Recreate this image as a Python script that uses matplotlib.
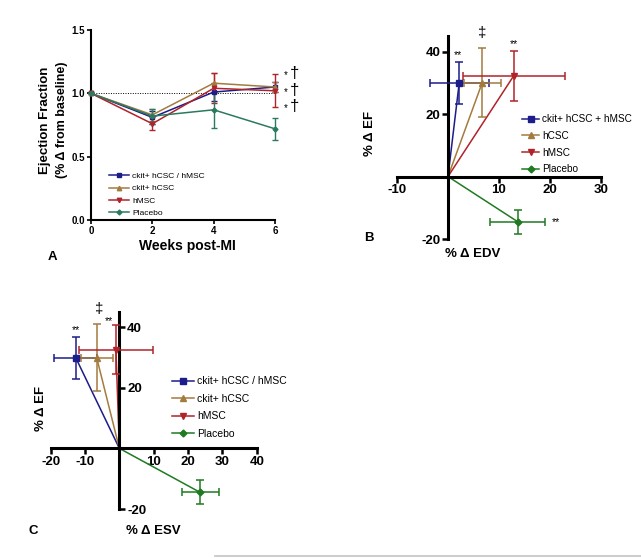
import matplotlib
matplotlib.use("Agg")
import matplotlib.pyplot as plt
from matplotlib.lines import Line2D

plt.rcParams['font.family'] = ['Liberation Sans', 'DejaVu Sans']

# ---------------- data ----------------
weeks = [0, 2, 4, 6]
a_labels = ["ckit+ hCSC / hMSC", "ckit+ hCSC", "hMSC", "Placebo"]
a_blue = [1.0, 0.81, 1.01, 1.05]
a_blue_err = [0, 0.05, 0.07, 0.04]
a_gold = [1.0, 0.83, 1.08, 1.05]
a_gold_err = [0, 0.05, 0.08, 0.04]
a_red = [1.0, 0.76, 1.04, 1.02]
a_red_err = [0, 0.05, 0.12, 0.13]
a_green = [1.0, 0.82, 0.87, 0.72]
a_green_err = [0, 0.06, 0.14, 0.085]

b_labels = ["ckit+ hCSC + hMSC", "hCSC", "hMSC", "Placebo"]
b_edv = [2.2, 6.7, 12.9, 13.7]
b_edv_err = [5.8, 3.6, 10.0, 5.4]
b_ef = [30.0, 30.0, 32.3, -14.5]
b_ef_err = [6.7, 11.0, 8.0, 3.9]

c_labels = ["ckit+ hCSC / hMSC", "ckit+ hCSC", "hMSC", "Placebo"]
c_esv = [-12.7, -6.6, -1.0, 23.5]
c_esv_err = [6.3, 4.7, 10.8, 5.4]
c_ef = [29.9, 29.9, 32.6, -14.5]
c_ef_err = [7.0, 11.0, 8.0, 4.0]

BLUE = '#1c1c8a'
GOLD = '#a47b3e'
RED = '#b0232a'
TEAL = '#2b7a60'
GREEN = '#1f7a22'
markers = ['s', '^', 'v', 'D']

W, H = 641, 558
fig = plt.figure(figsize=(W / 100, H / 100), dpi=100)

def fx(px):
    return px / W

def fy(py):
    return 1 - py / H

# ---------------- Panel A ----------------
axA = fig.add_axes([fx(91), fy(220), fx(275) - fx(91), fy(30) - fy(220)])
axA.set_xlim(0, 6)
axA.set_ylim(0, 1.5)
colsA = [BLUE, GOLD, RED, TEAL]
seriesA = [(a_blue, a_blue_err), (a_gold, a_gold_err), (a_red, a_red_err), (a_green, a_green_err)]
axA.plot([0, 6], [1, 1], color='black', ls=(0, (1, 1.5)), lw=0.7, zorder=1)
for (vals, errs), c, m in zip(seriesA, colsA, markers):
    axA.errorbar(weeks, vals, yerr=errs, color=c, marker=m, ms=3.2 if m != 'D' else 2.5,
                 lw=1.1, capsize=2.2, capthick=1.0, elinewidth=1.0, clip_on=False, zorder=3)
for s in ['top', 'right']:
    axA.spines[s].set_visible(False)
for s in ['left', 'bottom']:
    axA.spines[s].set_linewidth(1.5)
axA.set_xticks([0, 2, 4, 6])
axA.set_yticks([0.0, 0.5, 1.0, 1.5])
axA.set_yticklabels(['0.0', '0.5', '1.0', '1.5'])
axA.tick_params(length=3, width=1.2, labelsize=7, pad=1.5)
for t in axA.get_xticklabels() + axA.get_yticklabels():
    t.set_fontweight('bold')
handlesA = [Line2D([], [], color=c, marker=m, ms=3.2 if m != 'D' else 2.5, lw=1.1)
            for c, m in zip(colsA, markers)]
axA.legend(handlesA, a_labels, loc='upper left', bbox_to_anchor=(fx(105), fy(168)),
           bbox_transform=fig.transFigure, frameon=False, fontsize=6, borderpad=0,
           labelspacing=0.55, handlelength=2.4, handletextpad=0.4)
for yv in [1.145, 1.01, 0.88]:
    axA.text(6.36, yv, '*', fontsize=7, ha='center', va='center', clip_on=False)
    axA.text(6.62, yv + 0.015, '\u2020', fontsize=12, ha='center', va='center', clip_on=False)
fig.text(fx(45), fy(120), 'Ejection Fraction', rotation=90, ha='center', va='center',
         fontsize=9.5, fontweight='bold')
fig.text(fx(62), fy(120), '(% \u0394 from baseline)', rotation=90, ha='center', va='center',
         fontsize=9, fontweight='bold')
fig.text(fx(187), fy(246), 'Weeks post-MI', ha='center', va='center', fontsize=10,
         fontweight='bold')
fig.text(fx(52), fy(257), 'A', ha='center', va='center', fontsize=9.5, fontweight='bold')

# ---------------- helper for B/C ----------------
colsBC = [BLUE, GOLD, RED, GREEN]

def vector_panel(ax, xs, xerrs, ys, yerrs):
    for x, xe, y, ye, c, m in zip(xs, xerrs, ys, yerrs, colsBC, markers):
        ax.plot([0, x], [0, y], color=c, lw=1.1, zorder=2, clip_on=False)
        ax.errorbar([x], [y], xerr=[xe], yerr=[ye], color=c, marker=m,
                    ms=5 if m != 'D' else 3.5, lw=1.1, capsize=3, capthick=1.1,
                    elinewidth=1.1, clip_on=False, zorder=3)

def style_zero_axes(ax, xlim, ylim, xticks, yticks, ylabels_right=False):
    ax.set_xlim(*xlim)
    ax.set_ylim(*ylim)
    ax.spines['top'].set_visible(False)
    if ylabels_right:
        ax.spines['left'].set_visible(False)
        ax.spines['right'].set_position(('data', 0))
        ax.spines['right'].set_linewidth(2.2)
        ax.yaxis.set_ticks_position('right')
    else:
        ax.spines['right'].set_visible(False)
        ax.spines['left'].set_position(('data', 0))
        ax.spines['left'].set_linewidth(2.2)
    ax.spines['bottom'].set_position(('data', 0))
    ax.spines['bottom'].set_linewidth(2.2)
    ax.set_xticks(xticks)
    ax.set_yticks(yticks)
    ax.set_xticklabels([str(v) for v in xticks])
    ax.set_yticklabels([str(v) for v in yticks])
    ax.tick_params(length=4, width=1.8, labelsize=9.5, pad=1.5)
    for t in ax.get_xticklabels() + ax.get_yticklabels():
        t.set_fontweight('bold')

# ---------------- Panel B ----------------
axB = fig.add_axes([fx(397), fy(239), fx(601) - fx(397), fy(36) - fy(239)])
axB.patch.set_alpha(0)
vector_panel(axB, b_edv, b_edv_err, b_ef, b_ef_err)
style_zero_axes(axB, (-10, 30), (-20, 45), [-10, 10, 20, 30], [-20, 20, 40])
handlesB = [Line2D([], [], color=c, marker=m, ms=5 if m != 'D' else 3.5, lw=1.1)
            for c, m in zip(colsBC, markers)]
axB.legend(handlesB, b_labels, loc='upper left', bbox_to_anchor=(fx(517), fy(109)),
           bbox_transform=fig.transFigure, frameon=False, fontsize=7.2, borderpad=0,
           labelspacing=0.68, handlelength=1.7, handletextpad=0.3)
axB.text(2.0, 39, '**', fontsize=7.5, ha='center', va='center')
axB.text(12.9, 42.5, '**', fontsize=7.5, ha='center', va='center')
axB.text(21.2, -14.5, '**', fontsize=7.5, ha='center', va='center')
axB.text(6.7, 46, '\u2021', fontsize=11, ha='center', va='center', clip_on=False)
fig.text(fx(370), fy(133), '% \u0394 EF', rotation=90, ha='center', va='center',
         fontsize=9.5, fontweight='bold')
fig.text(fx(473), fy(254), '% \u0394 EDV', ha='center', va='center', fontsize=9.5,
         fontweight='bold')
fig.text(fx(369), fy(238), 'B', ha='center', va='center', fontsize=9.5, fontweight='bold')

# ---------------- Panel C ----------------
axC = fig.add_axes([fx(50.7), fy(509), fx(256.7) - fx(50.7), fy(312) - fy(509)])
axC.patch.set_alpha(0)
vector_panel(axC, c_esv, c_esv_err, c_ef, c_ef_err)
style_zero_axes(axC, (-20, 40), (-20, 45), [-20, -10, 10, 20, 30, 40], [-20, 20, 40],
                ylabels_right=True)
axC.legend(handlesB, c_labels, loc='upper left', bbox_to_anchor=(fx(167), fy(371)),
           bbox_transform=fig.transFigure, frameon=False, fontsize=7.5, borderpad=0,
           labelspacing=0.72, handlelength=2.1, handletextpad=0.3)
axC.text(-12.7, 39.2, '**', fontsize=7.5, ha='center', va='center')
axC.text(-3.0, 42, '**', fontsize=7.5, ha='center', va='center')
axC.text(-6.0, 46, '\u2021', fontsize=11, ha='center', va='center', clip_on=False)
fig.text(fx(41), fy(408), '% \u0394 EF', rotation=90, ha='center', va='center',
         fontsize=9.5, fontweight='bold')
fig.text(fx(153), fy(531), '% \u0394 ESV', ha='center', va='center', fontsize=9.5,
         fontweight='bold')
fig.text(fx(33), fy(531), 'C', ha='center', va='center', fontsize=9.5, fontweight='bold')

# bottom separator line
fig.add_artist(Line2D([fx(215), 1.0], [fy(556), fy(556)], color='#c4c4c4', lw=1.2,
                      transform=fig.transFigure))

fig.savefig('out.png', dpi=100)
